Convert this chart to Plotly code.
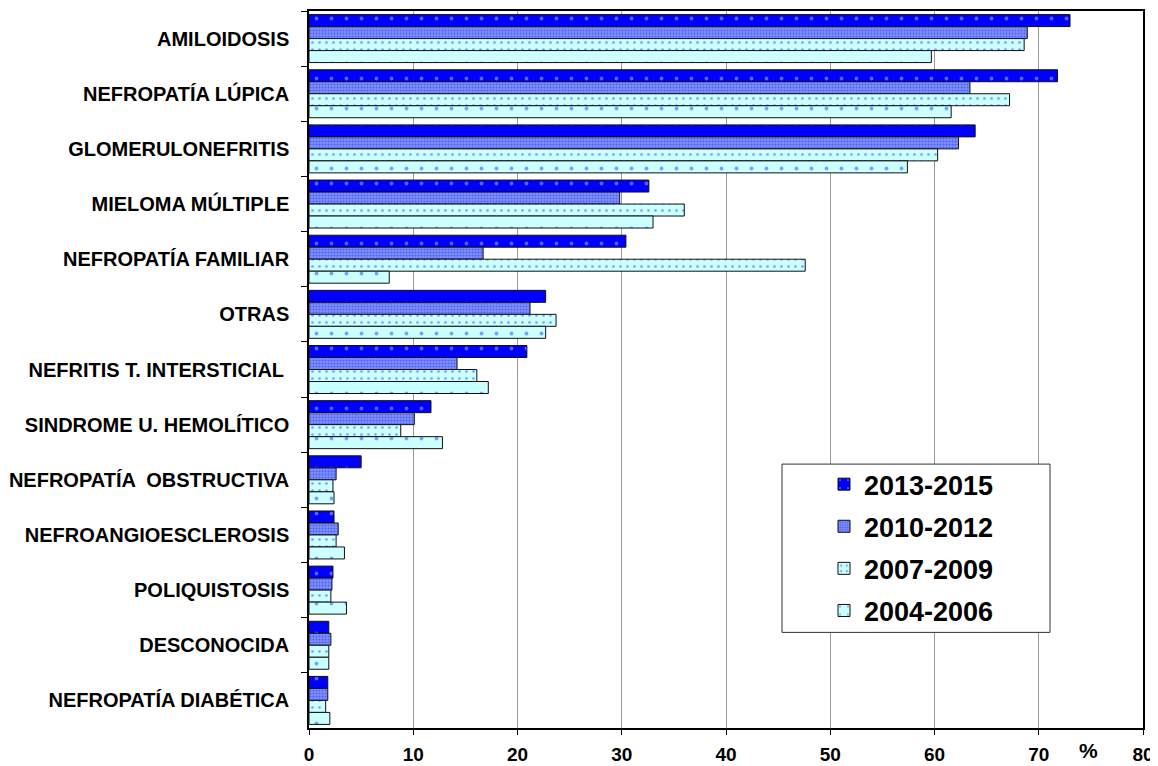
import plotly.graph_objects as go

categories = ["AMILOIDOSIS", "NEFROPATÍA LÚPICA", "GLOMERULONEFRITIS", "MIELOMA MÚLTIPLE",
              "NEFROPATÍA FAMILIAR", "OTRAS", "NEFRITIS T. INTERSTICIAL ", "SINDROME U. HEMOLÍTICO",
              "NEFROPATÍA  OBSTRUCTIVA", "NEFROANGIOESCLEROSIS", "POLIQUISTOSIS", "DESCONOCIDA",
              "NEFROPATÍA DIABÉTICA"]
series_names = ["2013-2015", "2010-2012", "2007-2009", "2004-2006"]
v_2013_2015 = [73.0, 71.8, 63.9, 32.6, 30.4, 22.7, 20.9, 11.7, 5.0, 2.4, 2.3, 1.9, 1.8]
v_2010_2012 = [68.9, 63.4, 62.3, 29.8, 16.7, 21.2, 14.2, 10.1, 2.6, 2.8, 2.2, 2.1, 1.8]
v_2007_2009 = [68.6, 67.2, 60.3, 36.0, 47.6, 23.7, 16.1, 8.8, 2.3, 2.6, 2.1, 1.9, 1.6]
v_2004_2006 = [59.7, 61.6, 57.4, 33.0, 7.7, 22.7, 17.2, 12.8, 2.4, 3.4, 3.6, 1.9, 2.0]
x_ticks = [0, 10, 20, 30, 40, 50, 60, 70, 80]

values = [v_2013_2015, v_2010_2012, v_2007_2009, v_2004_2006]
styles = [
    dict(bg="#0000FF", fg="#b0c4ff", size=15, sol=0.05),
    dict(bg="#8090ff", fg="#2030e8", size=3, sol=0.4),
    dict(bg="#CCFFFF", fg="#2244ff", size=7, sol=0.12),
    dict(bg="#CCFFFF", fg="#2244ff", size=15, sol=0.05),
]

FONT = "Arial, Liberation Sans, sans-serif"

fig = go.Figure()
for i, (name, vals, st) in enumerate(zip(series_names, values, styles)):
    fig.add_trace(go.Bar(
        y=categories, x=vals, name=name, orientation="h",
        legendgroup=name,
        marker=dict(color=st["bg"],
                    line=dict(color="#111111", width=1),
                    pattern=dict(shape=".", fgcolor=st["fg"], bgcolor=st["bg"],
                                 size=st["size"], solidity=st["sol"], fillmode="overlay")),
    ))

# page body has an 8px margin; figure is sized so the page is 1158x766
fig.update_layout(
    width=1150, height=758,
    margin=dict(l=301, r=15, t=1, b=37),
    paper_bgcolor="white", plot_bgcolor="white",
    barmode="group", bargap=0.13, bargroupgap=0,
    font=dict(family=FONT, color="black"),
    showlegend=True,
    legend=dict(x=(824 - 309) / 834, y=(729 - 460) / 720, xanchor="left", yanchor="top",
                bgcolor="rgba(0,0,0,0)", borderwidth=0,
                font=dict(size=27, family=FONT, color="black", weight="bold"),
                tracegroupgap=4, itemwidth=30),
    shapes=[dict(type="rect", xref="paper", yref="paper",
                 x0=(782 - 309) / 834, x1=(1050 - 309) / 834,
                 y0=(729 - 633) / 720, y1=(729 - 464) / 720,
                 line=dict(color="#333333", width=1), fillcolor="white", layer="above")],
    annotations=[dict(text="<b>%</b>", xref="paper", yref="paper",
                      x=(1088 - 309) / 834, y=(729 - 752) / 720, xanchor="center", yanchor="middle",
                      showarrow=False, font=dict(size=21, color="black", family=FONT))],
)
fig.update_xaxes(range=[0, 80], tickvals=x_ticks, ticktext=[str(t) for t in x_ticks],
                 showgrid=True, gridcolor="#999999", gridwidth=1,
                 showline=True, linecolor="black", linewidth=2, mirror=True,
                 ticks="outside", ticklen=5, tickcolor="black",
                 tickfont=dict(size=19, weight="bold", family=FONT), zeroline=False,
                 ticklabelstandoff=3)
fig.update_yaxes(autorange="reversed", categoryorder="array", categoryarray=categories,
                 tickson="boundaries", ticks="outside", ticklen=6, tickcolor="black",
                 showline=True, linecolor="black", linewidth=1.5, mirror=True,
                 showgrid=False, tickfont=dict(size=20, weight="bold", family=FONT),
                 ticklabelstandoff=14)
fig.write_html("out.html")
